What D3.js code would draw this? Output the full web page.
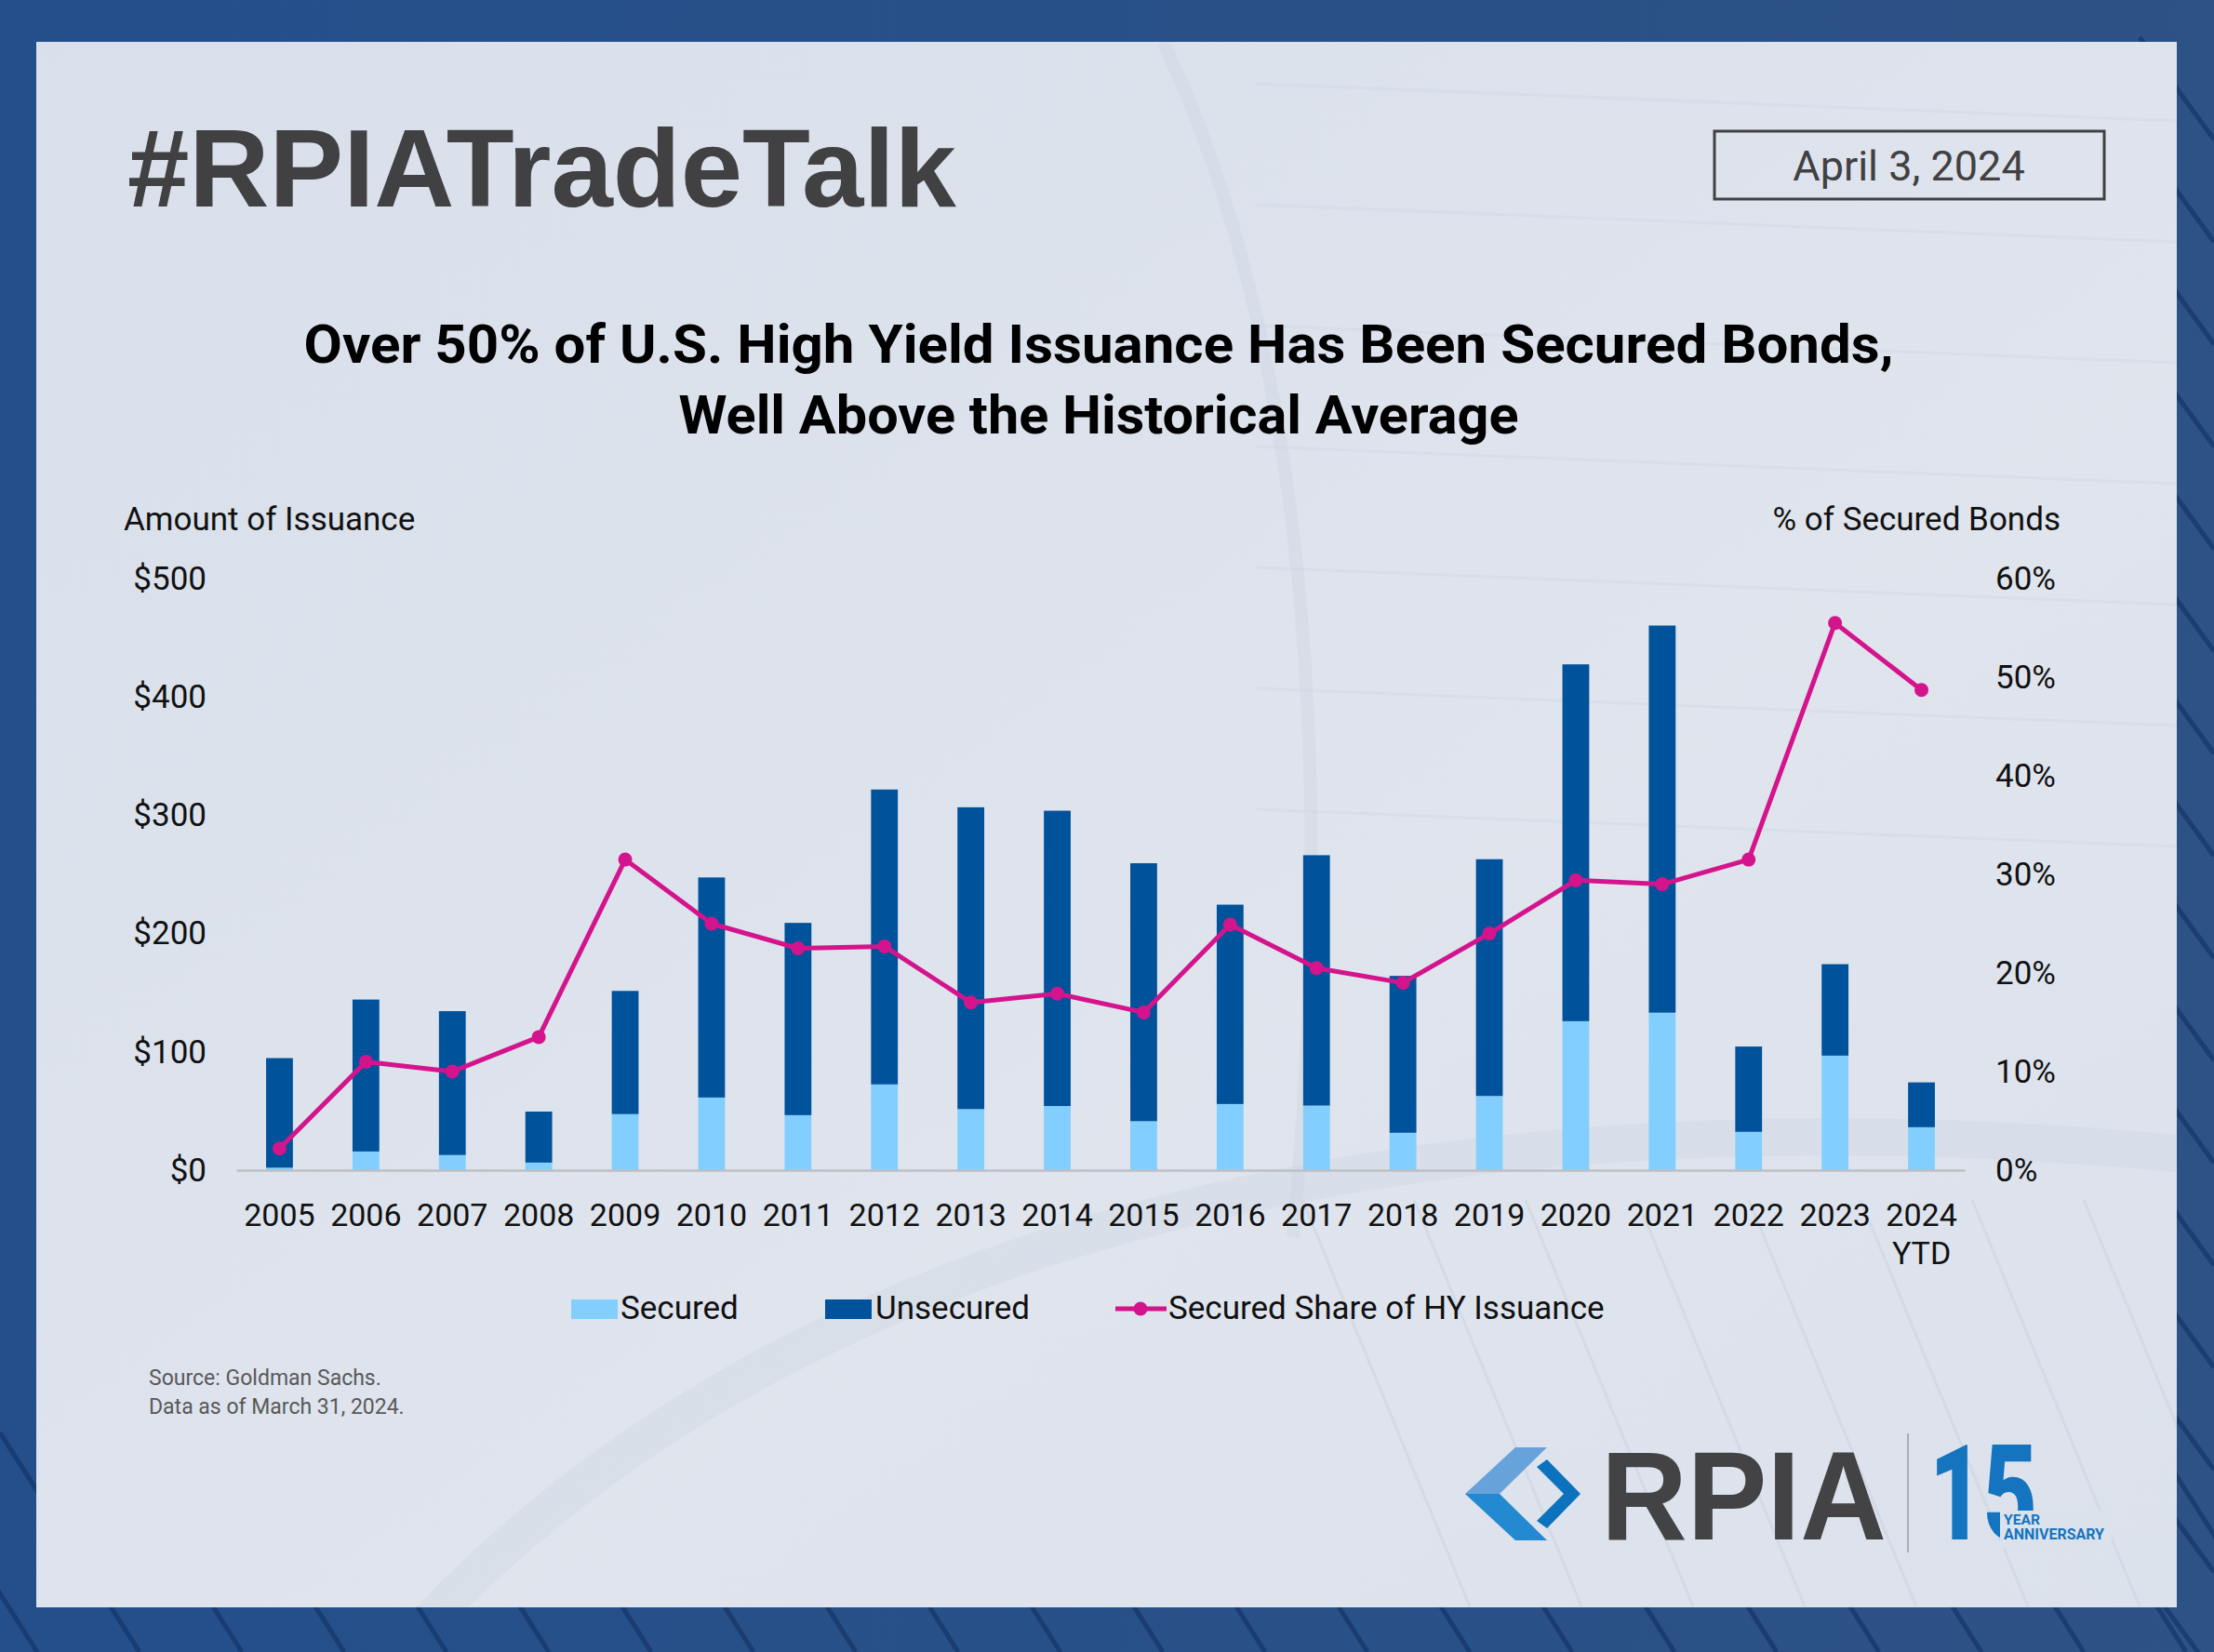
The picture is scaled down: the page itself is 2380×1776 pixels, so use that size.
<!DOCTYPE html>
<html>
<head>
<meta charset="utf-8">
<script src="https://cdn.jsdelivr.net/npm/d3@7"></script>
<style>
  body { margin: 0; background: #264f89; }
  svg { display: block; }
</style>
</head>
<body>
<svg id="chart" width="2380" height="1776"></svg>
<script>
// values ($bn and %)
const years = ["2005","2006","2007","2008","2009","2010","2011","2012","2013","2014",
  "2015","2016","2017","2018","2019","2020","2021","2022","2023","2024 YTD"];
const secured = [2.1, 15.8, 12.8, 6.4, 47.4, 61.4, 46.5, 72.5, 51.6, 54.2,
  41.4, 55.9, 54.6, 31.6, 62.7, 125.9, 133.1, 32.4, 96.8, 36.3];
const unsecured = [92.6, 128.4, 121.6, 43.1, 104.1, 186.0, 162.5, 249.2, 255.1, 249.6,
  218.0, 168.5, 211.6, 132.6, 200.1, 301.6, 327.2, 72.1, 77.3, 37.9];
const securedShare = [2.2, 11.0, 10.0, 13.5, 31.5, 25.0, 22.5, 22.7, 17.0, 17.9,
  16.0, 24.9, 20.5, 19.0, 24.0, 29.4, 29.0, 31.5, 55.5, 48.7];
const amountTicks = [0, 100, 200, 300, 400, 500];
const pctTicks = [0, 10, 20, 30, 40, 50, 60];

const svg = d3.select("#chart");
const defs = svg.append("defs");
const panelFill = "#dce2ec";
const txt = "Roboto, 'Open Sans', sans-serif";

// ---- backdrop ----
const bg = defs.append("linearGradient").attr("id", "bgGrad")
  .attr("x1", 0).attr("x2", 1).attr("y1", 0).attr("y2", 0);
bg.append("stop").attr("offset", 0).attr("stop-color", "#244f8b");
bg.append("stop").attr("offset", 1).attr("stop-color", "#2d5285");
svg.append("rect").attr("width", 2380).attr("height", 1776).attr("fill", "url(#bgGrad)");

// dark diagonal stripes in the border
svg.append("g").selectAll("line").data(d3.range(-8, 30)).enter().append("line")
  .attr("x1", d => d * 110).attr("y1", 1540)
  .attr("x2", d => d * 110 + 150).attr("y2", 1776)
  .attr("stroke", "#17386c").attr("stroke-width", 5).attr("opacity", 0.8);
svg.append("g").selectAll("line").data(d3.range(0, 18)).enter().append("line")
  .attr("x1", 2300).attr("y1", d => d * 110 + 40)
  .attr("x2", 2380).attr("y2", d => d * 110 + 150)
  .attr("stroke", "#17386c").attr("stroke-width", 5).attr("opacity", 0.8);

// panel
const pg = defs.append("linearGradient").attr("id", "panelGrad")
  .attr("x1", 0).attr("x2", 1).attr("y1", 0).attr("y2", 1);
pg.append("stop").attr("offset", 0).attr("stop-color", "#d9e0eb");
pg.append("stop").attr("offset", 0.6).attr("stop-color", "#dfe4ed");
pg.append("stop").attr("offset", 1).attr("stop-color", "#dce2ec");
svg.append("rect").attr("x", 39).attr("y", 45).attr("width", 2301).attr("height", 1683)
  .attr("fill", "url(#panelGrad)");
defs.append("clipPath").attr("id", "panelClip")
  .append("rect").attr("x", 39).attr("y", 45).attr("width", 2301).attr("height", 1683);

// faint texture lines on the panel
const deco = svg.append("g").attr("clip-path", "url(#panelClip)")
  .attr("fill", "none").attr("stroke", "#c9d1de");
deco.append("path").attr("d", "M 430 1776 C 900 1250, 1700 1180, 2340 1240").attr("stroke-width", 40).attr("opacity", 0.25);
deco.append("path").attr("d", "M 1250 45 C 1420 400, 1430 900, 1390 1330").attr("stroke-width", 14).attr("opacity", 0.3);
deco.selectAll("line.d").data(d3.range(0, 9)).enter().append("line")
  .attr("x1", d => 1400 + d * 120).attr("y1", 1290)
  .attr("x2", d => 1580 + d * 120).attr("y2", 1727)
  .attr("stroke-width", 3).attr("opacity", 0.45);
deco.selectAll("line.e").data(d3.range(0, 7)).enter().append("line")
  .attr("x1", 1350).attr("y1", d => 90 + d * 130)
  .attr("x2", 2340).attr("y2", d => 40 + d * 130 + 90)
  .attr("stroke-width", 3).attr("opacity", 0.25);

// ---- headers ----
svg.append("text").attr("x", 137).attr("y", 222)
  .attr("textLength", 891).attr("lengthAdjust", "spacingAndGlyphs")
  .style("font-family", "'Liberation Sans', Arial, sans-serif").style("font-weight", 700)
  .style("font-size", "119px").attr("fill", "#414042").text("#RPIATradeTalk");

svg.append("rect").attr("x", 1843).attr("y", 141).attr("width", 419).attr("height", 73)
  .attr("fill", "none").attr("stroke", "#414042").attr("stroke-width", 3);
svg.append("text").attr("x", 2052).attr("y", 194).attr("text-anchor", "middle")
  .style("font-family", txt).style("font-size", "45px").attr("fill", "#414042").text("April 3, 2024");

const title = ["Over 50% of U.S. High Yield Issuance Has Been Secured Bonds,",
  "Well Above the Historical Average"];
const titleW = [1709, 903];
svg.append("g").selectAll("text").data(title).enter().append("text")
  .attr("x", 1181).attr("y", (d, i) => 390 + i * 76).attr("text-anchor", "middle")
  .attr("textLength", (d, i) => titleW[i]).attr("lengthAdjust", "spacingAndGlyphs")
  .style("font-family", txt).style("font-weight", 700).style("font-size", "58px")
  .attr("fill", "#000").text(d => d);

// ---- chart ----
const table = years.map((y, i) => ({ year: y, secured: secured[i], unsecured: unsecured[i], share: securedShare[i] }));

const xScale = d3.scaleBand().domain(years).range([254, 2112]).paddingInner(0.69).paddingOuter(0.345);
const yScale = d3.scaleLinear().domain([0, 500]).range([1258, 622]);
const pScale = d3.scaleLinear().domain([0, 60]).range([1258, 622]);

const stack = d3.stack().keys(["secured", "unsecured"])(table);
const barColor = { secured: "#82cfff", unsecured: "#00529b" };

svg.append("g").selectAll("g").data(stack).enter().append("g")
  .attr("fill", d => barColor[d.key])
  .selectAll("rect").data(d => d).enter().append("rect")
  .attr("x", d => xScale(d.data.year))
  .attr("width", xScale.bandwidth())
  .attr("y", d => yScale(d[1]))
  .attr("height", d => yScale(d[0]) - yScale(d[1]));

// x axis
const xAxisG = svg.append("g").attr("transform", "translate(0,1258)");
xAxisG.call(d3.axisBottom(xScale).tickSize(0).tickSizeOuter(0));
xAxisG.select(".domain").attr("stroke", "#bdbfc3").attr("stroke-width", 2.5);
xAxisG.selectAll("text")
  .attr("y", 60).attr("dy", 0)
  .style("font-family", txt).style("font-size", "34px").attr("fill", "#111")
  .each(function(d) {
    const parts = d.split(" ");
    const t = d3.select(this).text(null);
    parts.forEach((p, i) => t.append("tspan").attr("x", 0).attr("dy", i ? 41 : 0).text(p));
  });

// left axis
const yAxisG = svg.append("g").attr("transform", "translate(222,0)");
yAxisG.call(d3.axisLeft(yScale).tickValues(amountTicks).tickSize(0).tickPadding(0).tickFormat(d => "$" + d));
yAxisG.select(".domain").remove();
yAxisG.selectAll("text").style("font-family", txt).style("font-size", "35px").attr("fill", "#111");

// right axis
const pAxisG = svg.append("g").attr("transform", "translate(2145,0)");
pAxisG.call(d3.axisRight(pScale).tickValues(pctTicks).tickSize(0).tickPadding(0).tickFormat(d => d + "%"));
pAxisG.select(".domain").remove();
pAxisG.selectAll("text").style("font-family", txt).style("font-size", "35px").attr("fill", "#111");

svg.append("text").attr("x", 133).attr("y", 570)
  .style("font-family", txt).style("font-size", "35px").attr("fill", "#111").text("Amount of Issuance");
svg.append("text").attr("x", 2215).attr("y", 570).attr("text-anchor", "end")
  .style("font-family", txt).style("font-size", "35px").attr("fill", "#111").text("% of Secured Bonds");

// share line
const lineColor = "#d4148c";
const shareLine = d3.line()
  .x(d => xScale(d.year) + xScale.bandwidth() / 2)
  .y(d => pScale(d.share));
svg.append("path").attr("d", shareLine(table)).attr("fill", "none")
  .attr("stroke", lineColor).attr("stroke-width", 5).attr("stroke-linejoin", "round");
svg.append("g").selectAll("circle").data(table).enter().append("circle")
  .attr("cx", d => xScale(d.year) + xScale.bandwidth() / 2)
  .attr("cy", d => pScale(d.share))
  .attr("r", 7.5).attr("fill", lineColor);

// ---- legend ----
const legend = svg.append("g").style("font-family", txt).style("font-size", "35px");
legend.append("rect").attr("x", 614).attr("y", 1397).attr("width", 50).attr("height", 21).attr("fill", barColor.secured);
legend.append("text").attr("x", 667).attr("y", 1418).attr("fill", "#111").text("Secured");
legend.append("rect").attr("x", 887).attr("y", 1397).attr("width", 50).attr("height", 21).attr("fill", barColor.unsecured);
legend.append("text").attr("x", 941).attr("y", 1418).attr("fill", "#111").text("Unsecured");
legend.append("line").attr("x1", 1199).attr("x2", 1254).attr("y1", 1407).attr("y2", 1407)
  .attr("stroke", lineColor).attr("stroke-width", 5);
legend.append("circle").attr("cx", 1226).attr("cy", 1407).attr("r", 7.5).attr("fill", lineColor);
legend.append("text").attr("x", 1256).attr("y", 1418).attr("fill", "#111").text("Secured Share of HY Issuance");

// source
const source = ["Source: Goldman Sachs.", "Data as of March 31, 2024."];
svg.append("g").selectAll("text").data(source).enter().append("text")
  .attr("x", 160).attr("y", (d, i) => 1489 + i * 31)
  .style("font-family", txt).style("font-size", "23px").attr("fill", "#595959").text(d => d);

// ---- logo ----
const logo = svg.append("g");
logo.append("path").attr("d", "M1629,1556 L1663,1556 L1612,1606 L1575,1606 Z").attr("fill", "#67a3da");
logo.append("path").attr("d", "M1575,1606 L1612,1606 L1663,1656 L1629,1656 Z").attr("fill", "#2389d1");
logo.append("path").attr("d", "M1652,1577 L1663,1569 L1699,1606 L1663,1643 L1652,1635 L1681,1606 Z").attr("fill", "#0d72bd");
logo.append("text").attr("x", 1721).attr("y", 1655)
  .attr("textLength", 307).attr("lengthAdjust", "spacingAndGlyphs")
  .style("font-family", "'Liberation Sans', Arial, sans-serif").style("font-weight", 700)
  .style("font-size", "136px").attr("fill", "#434244").text("RPIA");
logo.append("line").attr("x1", 2051).attr("x2", 2051).attr("y1", 1541).attr("y2", 1669)
  .attr("stroke", "#a9adb3").attr("stroke-width", 2);
logo.append("text").attr("x", 2074).attr("y", 1655)
  .attr("textLength", 116).attr("lengthAdjust", "spacingAndGlyphs")
  .style("font-family", txt).style("font-weight", 900)
  .style("font-size", "143px").attr("fill", "#1474bf").text("15");
logo.append("rect").attr("x", 2150).attr("y", 1624).attr("width", 120).attr("height", 40).attr("fill", panelFill);
// two lines of the anniversary tag in one text element
const tag = logo.append("text").attr("x", 2154).attr("y", 1639)
  .style("font-family", txt).style("font-weight", 700).attr("fill", "#1474bf");
tag.append("tspan").attr("x", 2154).attr("textLength", 39).attr("lengthAdjust", "spacingAndGlyphs")
  .style("font-size", "15px").text("YEAR");
tag.append("tspan").attr("x", 2154).attr("dy", 16).attr("textLength", 108).attr("lengthAdjust", "spacingAndGlyphs")
  .style("font-size", "16px").text("ANNIVERSARY");
</script>
</body>
</html>
